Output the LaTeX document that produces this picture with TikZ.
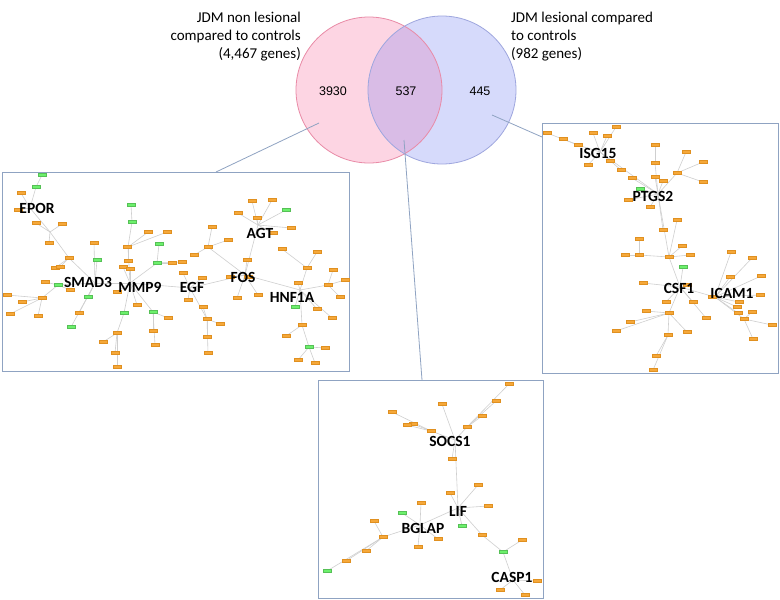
\documentclass[tikz,border=0pt]{standalone}
\usepackage{fontspec}
\setmainfont{Carlito}
\newfontfamily\arialf{Liberation Sans}
\pgfdeclarelayer{back}
\pgfdeclarelayer{bg}
\pgfsetlayers{back,bg,main}
\definecolor{pinkf}{HTML}{FDD5E3}
\definecolor{pinkd}{HTML}{E98AA6}
\definecolor{bluef}{HTML}{D6DAFB}
\definecolor{blued}{HTML}{9EA6DE}
\definecolor{lensf}{HTML}{D9BCE6}
\definecolor{boxc}{HTML}{8FA3C2}
\definecolor{orf}{HTML}{F5A83A}
\definecolor{ord}{HTML}{E09020}
\definecolor{grf}{HTML}{6CF06C}
\definecolor{edgec}{HTML}{CFCFCF}
\tikzset{
 orn/.style={rectangle, fill=orf, draw=ord, line width=0.3pt, minimum width=7.5pt, minimum height=3pt, inner sep=0pt},
 grn/.style={orn, fill=grf, draw=grf!80!black},
 edge/.style={draw=edgec, line width=0.6pt},
 gene/.style={font=\bfseries\fontsize{15.5}{18}\selectfont, inner sep=0pt, text=black},
 panel/.style={draw=boxc, line width=1pt},
 link/.style={draw=boxc, line width=0.8pt},
 vtext/.style={font=\fontsize{15}{18}\selectfont, inner sep=0pt},
 vnum/.style={font=\arialf\fontsize{12.5}{14}\selectfont, inner sep=0pt}
}
\newcommand\grp[3]{%
  \foreach \x/\y/\s [count=\i] in {#3}{%
    \begin{pgfonlayer}{bg}\draw[edge] (#2) -- (\x,\y);\end{pgfonlayer}
    \node[\s] (#1\i) at (\x,\y) {};}}
\newcommand\hublink[2]{\begin{pgfonlayer}{bg}\draw[edge] (#1) -- (#2);\end{pgfonlayer}}
\begin{document}
\begin{tikzpicture}[x=1pt,y=-1pt]
\useasboundingbox (0,0) rectangle (780,600);
\begin{pgfonlayer}{back}
\fill[white] (0,0) rectangle (780,600);
\end{pgfonlayer}

% ---------- Venn ----------
\fill[pinkf] (369,90) circle (73);
\fill[bluef] (442,90) circle (74);
\begin{scope}
  \clip (369,90) circle (73);
  \fill[lensf] (442,90) circle (74);
\end{scope}
\draw[pinkd, line width=0.8pt] (369,90) circle (73);
\draw[blued, line width=0.8pt] (442,90) circle (74);
\node[vnum] (n3930) at (333,91) {3930};
\node[vnum] (n537) at (406,91) {537};
\node[vnum] (n445) at (480,91) {445};
\node[vtext, anchor=base east] (tl1) at (301,22) {JDM non lesional};
\node[vtext, anchor=base east] (tl2) at (301,40) {compared to controls};
\node[vtext, anchor=base east] (tl3) at (301,58) {(4,467 genes)};
\node[vtext, anchor=base west] (tr1) at (511,22) {JDM lesional compared};
\node[vtext, anchor=base west] (tr2) at (511,40) {to controls};
\node[vtext, anchor=base west] (tr3) at (511,58) {(982 genes)};

% ---------- panels ----------
\draw[panel] (2,172) rectangle (349,371);
\draw[panel] (542,123) rectangle (778,373);
\draw[panel] (318,380) rectangle (543,598);
\coordinate (pL) at (319,123);
\coordinate (pLe) at (216,172);
\coordinate (pM) at (404,140);
\coordinate (pMe) at (422,380);
\coordinate (pR) at (492,115);
\coordinate (pRe) at (542,137);
\draw[link] (pL) -- (pLe);
\draw[link] (pM) -- (pMe);
\draw[link] (pR) -- (pRe);

% ---------- left network ----------
\coordinate (hE) at (50,232);
\coordinate (hEt) at (30,208);
\coordinate (hE2) at (69,258);
\coordinate (hS) at (95,283);
\coordinate (hX) at (58,285);
\coordinate (hX2) at (42,298);
\coordinate (hM) at (130,283);
\coordinate (hMt) at (128,247);
\coordinate (hMr) at (157,263);
\coordinate (hMb1) at (124,313);
\coordinate (hMb2) at (153,312);
\coordinate (hMb3) at (117,333);
\coordinate (hG) at (190,288);
\coordinate (hGb) at (207,319);
\coordinate (hFt) at (208,247);
\coordinate (hF) at (245,275);
\coordinate (hA) at (258,225);
\coordinate (hH) at (300,290);
\coordinate (hHr) at (328,285);
\coordinate (hHu) at (307,268);
\coordinate (hHb) at (302,325);
\coordinate (hHb2) at (309,347);
\hublink{hE}{hEt}\hublink{hE}{hE2}\hublink{hE2}{hS}\hublink{hS}{hX}\hublink{hX}{hX2}
\hublink{hS}{hM}\hublink{hM}{hMt}\hublink{hM}{hMr}\hublink{hM}{hMb1}\hublink{hM}{hMb2}\hublink{hMb1}{hMb3}
\hublink{hM}{hG}\hublink{hG}{hGb}\hublink{hG}{hF}\hublink{hF}{hFt}\hublink{hF}{hA}\hublink{hF}{hH}
\hublink{hH}{hHr}\hublink{hH}{hHu}\hublink{hH}{hHb}\hublink{hHb}{hHb2}
\grp{la}{hEt}{21/193/orn,36/187/grn,18/210/orn}
\grp{lb}{la2}{42/175/grn}
\grp{lc}{hE}{36/223/orn,62/224/orn,49/243/orn}
\grp{ld}{hE2}{69/258/orn,55/268/orn,60/267/orn}
\grp{le}{hS}{94/243/orn,97/260/grn,88/297/grn,79/313/orn,71/327/grn}
\grp{lf}{hX}{58/285/grn,45/282/orn,70/290/orn}
\grp{lg}{hX2}{42/298/orn,7/295/orn,22/302/orn,10/314/orn,38/316/orn}
\grp{lh}{hM}{117/292/orn,123/267/orn,130/269/orn,137/305/orn}
\grp{li}{hMt}{128/261/orn,127/247/orn,132/222/grn,148/232/orn,167/232/orn}
\grp{lj}{li3}{131/205/grn}
\grp{lk}{hMr}{159/244/grn,157/263/grn,172/263/orn,182/262/orn}
\grp{ll}{hMb1}{124/313/grn}
\grp{lm}{hMb3}{117/333/orn,103/342/orn,115/353/orn,117/367/orn}
\grp{ln}{hMb2}{153/312/grn,168/318/orn,153/331/orn,155/345/orn}
\grp{lo}{hG}{183/273/orn,202/278/orn,188/300/orn}
\grp{lp}{hGb}{203/307/orn,207/319/orn,220/324/orn,207/337/orn,208/353/orn}
\grp{lq}{hFt}{208/247/orn,212/227/orn,228/240/orn,194/255/orn}
\grp{lr}{hF}{230/277/orn,248/277/orn,247/260/orn,237/298/orn,258/295/orn}
\grp{ls}{hA}{252/201/orn,272/200/orn,286/210/grn,238/213/orn,257/218/orn,273/233/orn,291/228/orn}
\grp{lt}{hH}{298/283/orn,317/309/orn,332/318/orn,295/307/grn}
\grp{lu}{hHu}{307/268/orn,317/252/orn,282/249/orn}
\grp{lv}{hHr}{328/285/orn,333/270/orn,345/280/orn,340/297/orn}
\grp{lw}{hHb}{302/325/orn,286/336/orn}
\grp{lx}{hHb2}{309/347/grn,325/348/orn,298/360/orn,315/363/orn}

% ---------- right network ----------
\coordinate (hI) at (600,152);
\coordinate (hP) at (658,194);
\coordinate (hPu) at (655,163);
\coordinate (hPr) at (677,173);
\coordinate (hC2) at (669,257);
\coordinate (hCl) at (639,255);
\coordinate (hC) at (680,287);
\coordinate (hC3) at (669,313);
\coordinate (hCb) at (668,335);
\coordinate (hK) at (715,297);
\coordinate (hK2) at (744,319);
\coordinate (hIl) at (578,145);
\hublink{hI}{hIl}\hublink{hI}{hP}\hublink{hP}{hPu}\hublink{hP}{hPr}\hublink{hP}{hC2}
\hublink{hC2}{hCl}\hublink{hC2}{hC}\hublink{hC}{hC3}\hublink{hC3}{hCb}\hublink{hC}{hK}\hublink{hK}{hK2}
\grp{ra}{hIl}{547/133/orn,563/139/orn,578/145/orn}
\grp{rb}{hI}{593/133/orn,607/136/orn,616/127/orn,610/161/orn,588/165/orn,621/170/orn}
\grp{rc}{hP}{632/178/orn,640/189/grn,628/200/orn,650/207/orn,655/177/orn,663/181/orn,663/230/orn}
\grp{rd}{hPu}{655/163/orn,655/145/orn}
\grp{re}{hPr}{677/173/orn,686/152/orn,703/162/orn,703/182/orn}
\grp{rf}{hC2}{669/257/orn,677/220/orn,682/246/orn,690/255/orn}
\grp{rg}{hCl}{639/255/orn,625/255/orn,639/239/orn}
\grp{rh}{hC}{683/267/grn,643/283/orn,687/285/orn,693/302/orn,706/318/orn,666/302/orn}
\grp{ri}{hC3}{669/313/orn,646/311/orn,630/322/orn,616/331/orn,687/332/orn}
\grp{rj}{hCb}{668/335/orn,656/356/orn,653/370/orn}
\grp{rk}{hK}{731/252/orn,752/258/orn,730/277/orn,761/276/orn,760/295/orn,739/302/orn,737/307/orn,738/313/orn,712/297/orn}
\grp{rl}{hK2}{744/319/orn,752/312/orn,772/325/orn,753/339/orn}

% ---------- bottom network ----------
\coordinate (hSo) at (455,440);
\coordinate (hSl) at (431,431);
\coordinate (hSr) at (467,427);
\coordinate (hL) at (458,508);
\coordinate (hB) at (420,525);
\coordinate (hBl) at (383,537);
\coordinate (hCa0) at (482,535);
\coordinate (hCa1) at (503,552);
\coordinate (hCa) at (513,580);
\hublink{hSo}{hSl}\hublink{hSo}{hSr}\hublink{hSo}{hL}\hublink{hL}{hB}\hublink{hB}{hBl}
\hublink{hL}{hCa0}\hublink{hCa0}{hCa1}\hublink{hCa1}{hCa}
\grp{ba}{hSo}{442/404/orn,452/459/orn}
\grp{bb}{hSl}{431/431/orn,413/424/orn,407/425/orn,392/412/orn}
\grp{bc}{hSr}{467/427/orn,482/416/orn,496/401/orn,509/384/orn}
\grp{bd}{hL}{450/493/orn,478/485/orn,488/506/orn,462/526/grn}
\grp{be}{hB}{421/503/orn,402/513/grn,418/547/orn,438/539/orn}
\grp{bf}{hBl}{383/537/orn,374/521/orn,366/551/orn,346/561/orn,327/571/grn}
\grp{bg}{hCa0}{482/535/orn}
\grp{bh}{hCa1}{503/552/grn,522/540/orn}
\grp{bi}{hCa}{500/590/orn,525/595/orn,537/581/orn}

% ---------- gene labels ----------
\node[gene] (gEPOR) at (37,208) {EPOR};
\node[gene] (gSMAD3) at (88,282) {SMAD3};
\node[gene] (gMMP9) at (140,287) {MMP9};
\node[gene] (gEGF) at (192,287) {EGF};
\node[gene] (gFOS) at (243,277) {FOS};
\node[gene] (gAGT) at (260,233) {AGT};
\node[gene] (gHNF1A) at (292,297) {HNF1A};
\node[gene] (gISG15) at (598,153) {ISG15};
\node[gene] (gPTGS2) at (653,196) {PTGS2};
\node[gene] (gCSF1) at (679,288) {CSF1};
\node[gene] (gICAM1) at (732,293) {ICAM1};
\node[gene] (gSOCS1) at (450,441) {SOCS1};
\node[gene] (gLIF) at (458,511) {LIF};
\node[gene] (gBGLAP) at (423,528) {BGLAP};
\node[gene] (gCASP1) at (512,577) {CASP1};
\end{tikzpicture}
\end{document}
